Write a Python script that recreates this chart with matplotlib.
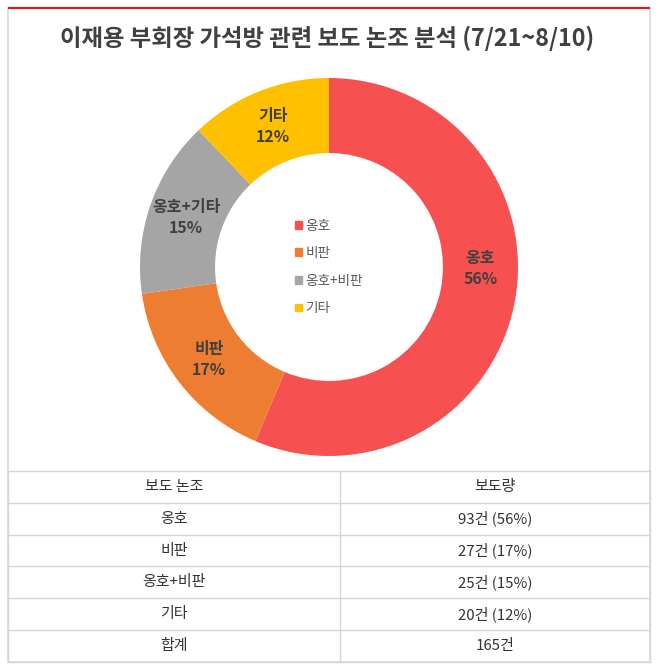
#!/usr/bin/env python3
# -*- coding: utf-8 -*-
"""Donut chart of coverage tone + summary table."""

import matplotlib
matplotlib.use("Agg")
import matplotlib.pyplot as plt
import matplotlib.patches as mpatches
import numpy as np

plt.rcParams["font.family"] = ["Noto Sans CJK KR", "DejaVu Sans"]

TITLE = "이재용 부회장 가석방 관련 보도 논조 분석 (7/21~8/10)"
categories = ["옹호", "비판", "옹호+비판", "기타"]
slice_labels = ["옹호", "비판", "옹호+기타", "기타"]
counts = [93, 27, 25, 20]
percents = [56, 17, 15, 12]
colors = ["#F65050", "#ED7D31", "#A5A5A5", "#FFC000"]
table_header = ["보도 논조", "보도량"]
total_label = "합계"
total_value = "165건"

W, H = 658, 670


def main() -> None:
    fig = plt.figure(figsize=(W / 100, H / 100), dpi=100)
    fig.patch.set_facecolor("white")

    # background axes in pixel coordinates: frame, title, table
    bg = fig.add_axes([0, 0, 1, 1])
    bg.set_xlim(0, W)
    bg.set_ylim(H, 0)
    bg.axis("off")

    x0, x1, xm = 8, 650, 340
    bg.add_patch(mpatches.Rectangle((x0, 8), x1 - x0, 654, fill=False, ec="#d9d9d9", lw=1.2))
    bg.plot([x0, x1], [8, 8], color="#d0202e", lw=1.6, solid_capstyle="butt")
    bg.text(W / 2 - 2, 38, TITLE, ha="center", va="center", fontsize=16.8, fontweight="bold", color="#404040")

    # table
    rows = [table_header] + [[c, f"{n}건 ({p}%)"] for c, n, p in zip(categories, counts, percents)]
    rows.append([total_label, total_value])
    row_h = 31.8
    top = 471
    for i in range(len(rows) + 1):
        y = top + i * row_h
        bg.plot([x0, x1], [y, y], color="#d6d6d6", lw=1.0)
    bottom = top + len(rows) * row_h
    for x in (x0, xm, x1):
        bg.plot([x, x], [top, bottom], color="#d6d6d6", lw=1.0)
    for i, (a, b) in enumerate(rows):
        yc = top + (i + 0.5) * row_h
        bg.text((x0 + xm) / 2, yc, a, ha="center", va="center", fontsize=10.8, color="#333333")
        bg.text((xm + x1) / 2, yc, b, ha="center", va="center", fontsize=10.8, color="#333333")

    # donut
    cx, cy, r = 329, 267, 189
    ax = fig.add_axes([(cx - r) / W, 1 - (cy + r) / H, 2 * r / W, 2 * r / H])
    wedges, _ = ax.pie(
        counts,
        colors=colors,
        startangle=90,
        counterclock=False,
        radius=1.0,
        wedgeprops=dict(width=0.397, edgecolor="none"),
    )
    ax.set_xlim(-1, 1)
    ax.set_ylim(-1, 1)
    ax.axis("off")

    tweak = [11, 0, 0, 0]  # label angle nudges (deg)
    for w, name, p, dt in zip(wedges, slice_labels, percents, tweak):
        th = np.deg2rad((w.theta1 + w.theta2) / 2 + dt)
        ax.text(0.80 * np.cos(th), 0.80 * np.sin(th), f"{name}\n{p}%", ha="center", va="center",
                fontsize=11.5, fontweight="bold", color="#404040", linespacing=1.4)

    handles = [mpatches.Patch(color=c) for c in colors]
    ax.legend(handles, categories, loc="center", frameon=False, fontsize=9.8,
              handlelength=0.5, handleheight=0.5, handletextpad=0.3,
              labelspacing=1.0, labelcolor="#595959")

    fig.savefig("out.png", dpi=100, facecolor="white")
    plt.close(fig)


if __name__ == "__main__":
    main()
